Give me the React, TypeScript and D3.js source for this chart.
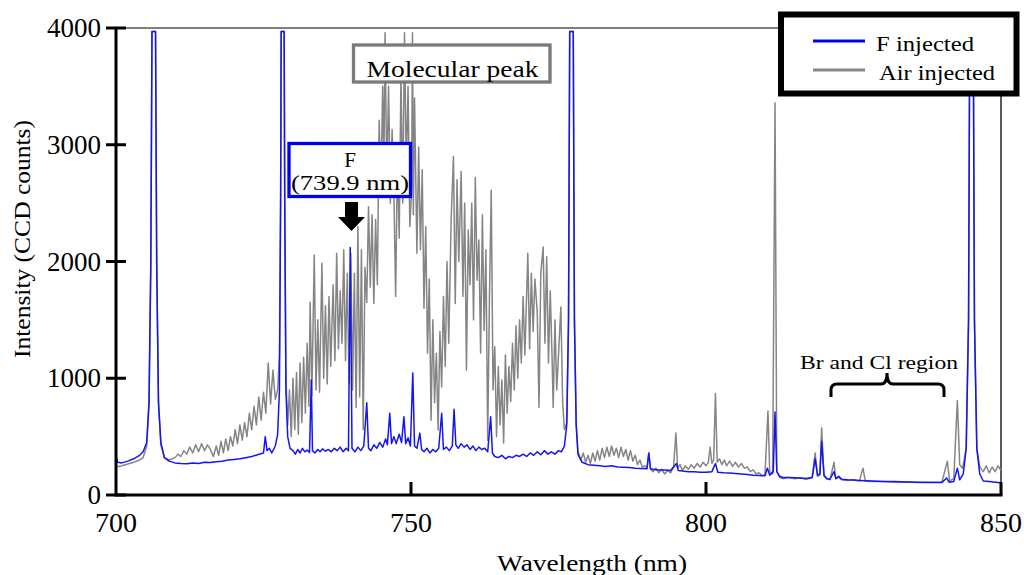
import React, { useEffect, useRef } from 'react';
import * as d3 from 'd3';

const wavelengthTicks = [700, 750, 800, 850];
const intensityTicks = [0, 1000, 2000, 3000, 4000];
const seriesNames = ['F injected', 'Air injected'];
const seriesColors = ['#1414f4', '#858585'];

// [wavelength nm, CCD counts]
const fInjected: [number, number][] = [
  [700, 330], [700.3, 280], [701, 275], [702, 290], [703, 310], [704, 340], [704.6, 370], [705.2, 450],
  [705.6, 800], [705.9, 2000], [706.1, 3970], [706.7, 3970], [706.9, 2000], [707.2, 800], [707.6, 450],
  [708.2, 320], [709, 290], [710, 275], [711, 270], [712, 268], [713, 275], [714, 270], [715, 280],
  [716, 278], [717, 285], [718, 290], [719, 300], [720, 305], [721, 310], [722, 320], [723, 330],
  [724, 345], [725, 360], [725.3, 500], [725.6, 380], [726, 400], [726.4, 360], [727, 420], [727.4, 520],
  [727.7, 900], [727.9, 2500], [728.0, 3970], [728.5, 3970], [728.6, 2500], [728.8, 900], [729.1, 500],
  [729.5, 400], [730, 380], [730.4, 350], [730.8, 390], [731.2, 360], [731.6, 400], [732, 370],
  [732.4, 385], [732.8, 365], [733.1, 985], [733.3, 380], [733.7, 360], [734.2, 390], [734.6, 370],
  [735, 395], [735.5, 375], [736, 390], [736.5, 370], [737, 400], [737.5, 380], [738, 410], [738.5, 370],
  [739, 400], [739.4, 380], [739.7, 2120], [740, 400], [740.5, 370], [741, 410], [741.5, 380],
  [742, 420], [742.5, 790], [742.8, 400], [743.2, 380], [743.7, 430], [744.2, 400], [744.7, 450],
  [745.2, 410], [745.7, 480], [746, 430], [746.4, 700], [746.7, 440], [747.1, 500], [747.5, 440],
  [748, 520], [748.4, 450], [748.8, 670], [749.1, 440], [749.5, 490], [749.9, 420], [750.3, 1045],
  [750.6, 420], [751, 400], [751.5, 530], [751.8, 390], [752.2, 370], [752.7, 400], [753.2, 360],
  [753.7, 390], [754.2, 370], [754.7, 400], [755.2, 700], [755.5, 390], [756, 410], [756.5, 380],
  [757, 420], [757.3, 735], [757.6, 430], [758, 400], [758.5, 440], [759, 410], [759.5, 430],
  [760, 390], [760.5, 420], [761, 380], [761.5, 410], [762, 390], [762.5, 400], [763, 370],
  [763.5, 670], [763.8, 360], [764.2, 330], [764.8, 320], [765.4, 340], [766, 310], [766.6, 330],
  [767.2, 320], [767.8, 340], [768.4, 330], [769, 350], [769.6, 330], [770.2, 360], [770.8, 340],
  [771.4, 370], [772, 345], [772.6, 380], [773.2, 350], [773.8, 370], [774.4, 350], [775, 380],
  [775.5, 370], [776, 420], [776.4, 600], [776.7, 1500], [776.9, 3970], [777.5, 3970], [777.7, 1500],
  [778, 600], [778.3, 350], [779, 280], [780, 260], [781, 255], [782, 250], [783, 245], [784, 250],
  [785, 240], [786, 238], [787, 235], [788, 230], [789, 228], [790, 225], [790.3, 360], [790.6, 225],
  [791, 220], [792, 215], [793, 215], [794, 210], [795, 270], [795.3, 210], [796, 205], [797, 200],
  [798, 200], [799, 195], [800, 195], [801, 200], [801.6, 270], [802, 195], [803, 190], [804, 188],
  [805, 185], [806, 180], [807, 175], [808, 170], [809, 168], [810, 165], [810.4, 230], [810.8, 170],
  [811.4, 200], [811.7, 710], [812, 200], [812.5, 160], [813, 150], [814, 150], [815, 148], [816, 145],
  [817, 142], [818, 150], [818.5, 310], [818.9, 170], [819.3, 180], [819.6, 460], [820, 170],
  [820.5, 140], [821, 135], [821.7, 200], [822, 140], [822.5, 160], [823, 135], [824, 130], [825, 128],
  [826, 125], [827, 122], [828, 120], [829, 118], [830, 115], [832, 115], [834, 112], [836, 110],
  [838, 108], [840, 108], [840.8, 145], [841.2, 110], [842, 115], [842.6, 230], [843, 130], [843.6, 180],
  [844.1, 400], [844.5, 1500], [844.7, 3970], [845.3, 3970], [845.5, 1500], [845.9, 400], [846.4, 180],
  [847, 120], [848, 115], [849, 110], [850, 105],
];

const airInjected: [number, number][] = [
  [700, 240], [701, 250], [702, 265], [703, 280], [704, 300], [704.6, 320], [705.2, 420], [705.6, 780],
  [705.9, 1950], [706.1, 3970], [706.7, 3970], [706.9, 1950], [707.2, 780], [707.6, 430], [708.2, 320],
  [709, 300], [710, 320], [710.5, 350], [711, 330], [711.5, 380], [712, 350], [712.5, 410], [713, 360],
  [713.5, 430], [714, 370], [714.5, 440], [715, 380], [715.5, 430], [716, 390], [716.5, 330], [717, 420],
  [717.4, 340], [717.8, 460], [718.2, 360], [718.6, 480], [719, 380], [719.4, 500], [719.8, 420],
  [720.2, 560], [720.6, 440], [721, 600], [721.4, 470], [721.8, 620], [722.2, 500], [722.6, 700],
  [723, 560], [723.4, 760], [723.8, 600], [724.2, 840], [724.6, 640], [725, 880], [725.4, 700],
  [725.8, 1130], [726.2, 780], [726.6, 1070], [727, 820], [727.4, 900], [727.7, 1200], [727.9, 2500],
  [728.0, 3970], [728.5, 3970], [728.6, 2500], [728.8, 1000], [729.1, 600], [729.4, 900], [729.7, 500],
  [730, 1000], [730.3, 560], [730.6, 1050], [730.9, 520], [731.2, 1130], [731.5, 620], [731.8, 1180],
  [732.1, 700], [732.4, 1300], [732.7, 760], [732.9, 1650], [733.2, 850], [733.6, 2055], [733.9, 900],
  [734.2, 1500], [734.5, 880], [734.9, 1985], [735.2, 1000], [735.5, 1620], [735.8, 950], [736.1, 1700],
  [736.4, 1100], [736.8, 1800], [737.1, 1150], [737.4, 2070], [737.7, 1250], [738, 1750], [738.3, 1300],
  [738.6, 2100], [738.9, 1150], [739.2, 1900], [739.5, 950], [739.8, 2070], [740.1, 900], [740.4, 1900],
  [740.7, 750], [741, 2300], [741.3, 840], [741.6, 2100], [741.9, 560], [742.2, 1950], [742.5, 1650],
  [742.8, 2470], [743.1, 1780], [743.4, 2400], [743.7, 1640], [744, 2360], [744.3, 1800], [744.6, 3210],
  [744.9, 2640], [745.2, 3500], [745.4, 2800], [745.6, 3960], [745.9, 2700], [746.2, 3500], [746.5, 2500],
  [746.8, 3130], [747.1, 2600], [747.4, 1700], [747.7, 2900], [748, 2200], [748.3, 3600], [748.6, 2500],
  [748.9, 3960], [749.2, 2785], [749.5, 3500], [749.8, 2300], [750.1, 2600], [750.25, 3960], [750.4, 2400],
  [750.6, 3400], [751, 2070], [751.3, 2980], [751.6, 2100], [751.9, 2785], [752.2, 1600], [752.5, 2300],
  [752.8, 1215], [753.1, 1850], [753.4, 640], [753.7, 1500], [754, 790], [754.3, 1215], [754.6, 557],
  [754.9, 1400], [755.2, 925], [755.5, 1700], [755.8, 1100], [756.1, 2000], [756.4, 1300], [756.8, 2355],
  [757.2, 2900], [757.5, 1640], [757.8, 2700], [758.1, 2000], [758.5, 2770], [758.8, 1700], [759.1, 2500],
  [759.4, 1070], [759.7, 2270], [760, 1800], [760.3, 2500], [760.6, 1500], [760.9, 2720], [761.2, 1840],
  [761.5, 2185], [761.8, 1215], [762.1, 2400], [762.4, 1410], [762.7, 2100], [763, 470], [763.3, 1700],
  [763.6, 2610], [763.9, 900], [764.2, 1270], [764.5, 500], [764.8, 1100], [765.1, 600], [765.4, 985],
  [765.7, 445], [766, 1200], [766.3, 700], [766.6, 1100], [766.9, 800], [767.2, 1300], [767.5, 900],
  [767.8, 1450], [768.1, 1000], [768.4, 1500], [768.7, 1130], [769, 1700], [769.3, 1200], [769.8, 2070],
  [770.1, 1250], [770.4, 1900], [770.7, 1400], [771, 1850], [771.4, 1560], [771.7, 750], [772, 1900],
  [772.4, 2125], [772.7, 1300], [773, 2040], [773.3, 1130], [773.6, 1750], [773.9, 1200], [774.1, 750],
  [774.4, 1500], [774.7, 900], [775, 1200], [775.4, 1610], [775.7, 800], [776, 560], [776.4, 620],
  [776.7, 1500], [776.9, 3970], [777.5, 3970], [777.7, 1500], [778, 600], [778.3, 370], [778.8, 300],
  [779.2, 360], [779.6, 280], [780, 340], [780.4, 270], [780.8, 360], [781.2, 290], [781.6, 380],
  [782, 300], [782.4, 400], [782.8, 320], [783.2, 410], [783.6, 330], [784, 420], [784.4, 340],
  [784.8, 400], [785.2, 320], [785.6, 410], [786, 330], [786.4, 390], [786.8, 300], [787.2, 380],
  [787.6, 290], [788, 340], [788.4, 260], [788.8, 300], [789.2, 240], [789.6, 250], [790, 230],
  [790.3, 360], [790.6, 220], [791, 200], [791.5, 230], [792, 190], [792.5, 220], [793, 180],
  [793.5, 210], [794, 190], [794.5, 240], [794.9, 530], [795.2, 230], [795.6, 260], [796, 210],
  [796.5, 250], [797, 220], [797.5, 260], [798, 230], [798.5, 270], [799, 240], [799.5, 280], [800, 250],
  [800.4, 280], [800.7, 410], [801, 270], [801.3, 300], [801.6, 870], [801.9, 280], [802.3, 310],
  [802.7, 260], [803.1, 300], [803.5, 250], [804, 290], [804.5, 245], [805, 280], [805.5, 240], [806, 270],
  [806.5, 230], [807, 240], [807.5, 200], [808, 215], [808.5, 180], [809, 190], [809.5, 165], [810, 175],
  [810.5, 720], [810.8, 200], [811.3, 180], [811.7, 3360], [812, 200], [812.5, 150], [813, 140],
  [814, 150], [815, 140], [816, 145], [817, 135], [818, 150], [818.5, 360], [818.9, 160], [819.3, 170],
  [819.6, 575], [820, 160], [820.5, 140], [821, 130], [821.7, 280], [822, 140], [822.5, 150], [823, 130],
  [824, 125], [825, 130], [826, 120], [826.6, 230], [827, 120], [828, 115], [830, 115], [832, 110],
  [834, 112], [836, 108], [838, 110], [840, 112], [840.9, 290], [841.3, 120], [842, 140], [842.6, 810],
  [843, 260], [843.5, 230], [844.1, 400], [844.5, 1500], [844.7, 3970], [845.3, 3970], [845.5, 1500],
  [845.9, 400], [846.4, 240], [847, 200], [847.5, 250], [848, 190], [848.5, 240], [849, 200],
  [849.5, 250], [850, 210],
];

const App = () => {
  const svgRef = useRef<SVGSVGElement>(null);

  useEffect(() => {
    const svg = d3.select(svgRef.current);
    svg.selectAll('*').remove();

    const font = '"Liberation Serif", "Times New Roman", serif';
    const x = d3.scaleLinear().domain([700, 850]).range([116, 1001]);
    const y = d3.scaleLinear().domain([0, 4000]).range([495, 28]);

    const line = d3
      .line<[number, number]>()
      .x((d) => x(d[0]))
      .y((d) => y(d[1]));

    // frame lines
    svg.append('line')
      .attr('x1', x(700)).attr('x2', 780)
      .attr('y1', y(4000)).attr('y2', y(4000))
      .attr('stroke', '#555').attr('stroke-width', 1.5);
    svg.append('line')
      .attr('x1', x(850)).attr('x2', x(850))
      .attr('y1', 90).attr('y2', y(0))
      .attr('stroke', '#000').attr('stroke-width', 1.3);

    // spectra
    svg.append('path')
      .datum(airInjected)
      .attr('d', line)
      .attr('fill', 'none')
      .attr('stroke', seriesColors[1])
      .attr('stroke-width', 1.5)
      .attr('stroke-linejoin', 'round');
    svg.append('path')
      .datum(fInjected)
      .attr('d', line)
      .attr('fill', 'none')
      .attr('stroke', seriesColors[0])
      .attr('stroke-width', 1.5)
      .attr('stroke-linejoin', 'round');

    // axes
    svg.append('line')
      .attr('x1', x(700)).attr('x2', x(700))
      .attr('y1', y(4000) - 1).attr('y2', y(0) + 1.5)
      .attr('stroke', '#000').attr('stroke-width', 3);
    svg.append('line')
      .attr('x1', x(700)).attr('x2', x(850) + 1.5)
      .attr('y1', y(0)).attr('y2', y(0))
      .attr('stroke', '#000').attr('stroke-width', 3);

    svg.selectAll('.ytick')
      .data(intensityTicks)
      .enter()
      .append('line')
      .attr('x1', x(700) - 10).attr('x2', x(700) + 10)
      .attr('y1', (d) => y(d)).attr('y2', (d) => y(d))
      .attr('stroke', '#000').attr('stroke-width', 3);
    svg.selectAll('.ylabel')
      .data(intensityTicks)
      .enter()
      .append('text')
      .attr('x', x(700) - 15)
      .attr('y', (d) => y(d) + 9)
      .attr('text-anchor', 'end')
      .attr('font-family', font)
      .attr('font-size', 27)
      .text((d) => String(d));

    svg.selectAll('.xtick')
      .data(wavelengthTicks.slice(1))
      .enter()
      .append('line')
      .attr('x1', (d) => x(d)).attr('x2', (d) => x(d))
      .attr('y1', y(0)).attr('y2', y(0) - 13)
      .attr('stroke', '#000').attr('stroke-width', 3);
    svg.selectAll('.xlabel')
      .data(wavelengthTicks)
      .enter()
      .append('text')
      .attr('x', (d) => x(d))
      .attr('y', 532)
      .attr('text-anchor', 'middle')
      .attr('font-family', font)
      .attr('font-size', 28)
      .text((d) => String(d));

    svg.append('text')
      .attr('x', 592).attr('y', 571)
      .attr('text-anchor', 'middle')
      .attr('font-family', font).attr('font-size', 24)
      .attr('textLength', 190).attr('lengthAdjust', 'spacingAndGlyphs')
      .text('Wavelength (nm)');
    svg.append('text')
      .attr('transform', 'translate(30,239) rotate(-90)')
      .attr('text-anchor', 'middle')
      .attr('font-family', font).attr('font-size', 24)
      .attr('textLength', 238).attr('lengthAdjust', 'spacingAndGlyphs')
      .text('Intensity (CCD counts)');

    // annotations
    svg.append('rect')
      .attr('x', 353.5).attr('y', 45).attr('width', 196.5).attr('height', 37)
      .attr('fill', '#fff').attr('stroke', '#7a7a7a').attr('stroke-width', 3.3);
    svg.append('text')
      .attr('x', 452.5).attr('y', 77)
      .attr('text-anchor', 'middle')
      .attr('font-family', font).attr('font-size', 23)
      .attr('textLength', 172).attr('lengthAdjust', 'spacingAndGlyphs')
      .text('Molecular peak');

    svg.append('rect')
      .attr('x', 289).attr('y', 143.5).attr('width', 121.5).attr('height', 53)
      .attr('fill', '#fff').attr('stroke', '#0000f0').attr('stroke-width', 3.3);
    svg.append('text')
      .attr('x', 350).attr('y', 167)
      .attr('text-anchor', 'middle')
      .attr('font-family', font).attr('font-size', 21)
      .text('F');
    svg.append('text')
      .attr('x', 350).attr('y', 190)
      .attr('text-anchor', 'middle')
      .attr('font-family', font).attr('font-size', 21)
      .attr('textLength', 118).attr('lengthAdjust', 'spacingAndGlyphs')
      .text('(739.9 nm)');

    svg.append('path')
      .attr('d', 'M345,202 L358,202 L358,217 L365,217 L351.5,231 L338,217 L345,217 Z')
      .attr('fill', '#000');

    svg.append('text')
      .attr('x', 800).attr('y', 369)
      .attr('font-family', font).attr('font-size', 19)
      .attr('textLength', 158).attr('lengthAdjust', 'spacingAndGlyphs')
      .text('Br and Cl region');
    svg.append('path')
      .attr('d', 'M831,397 L831,390 Q831,384 837,384 L881,384 Q887,384 887,373 Q887,384 893,384 L938,384 Q944,384 944,390 L944,397')
      .attr('fill', 'none').attr('stroke', '#000').attr('stroke-width', 3);

    // legend
    const legend = svg.append('g');
    legend.append('rect')
      .attr('x', 781).attr('y', 14.5).attr('width', 235.5).attr('height', 79)
      .attr('fill', '#fff').attr('stroke', '#000').attr('stroke-width', 6);
    seriesNames.forEach((name, i) => {
      const ly = 41 + i * 29;
      legend.append('line')
        .attr('x1', 813).attr('x2', 865)
        .attr('y1', ly).attr('y2', ly)
        .attr('stroke', i === 0 ? '#0000ff' : '#888').attr('stroke-width', 3);
      legend.append('text')
        .attr('x', i === 0 ? 876 : 879).attr('y', ly + 10)
        .attr('font-family', font).attr('font-size', 21)
        .attr('textLength', i === 0 ? 98 : 116).attr('lengthAdjust', 'spacingAndGlyphs')
        .text(name);
    });
  }, []);

  return (
    <svg
      ref={svgRef}
      width={1024}
      height={575}
      style={{ position: 'absolute', left: 0, top: 0, background: '#fff' }}
    />
  );
};

export default App;
